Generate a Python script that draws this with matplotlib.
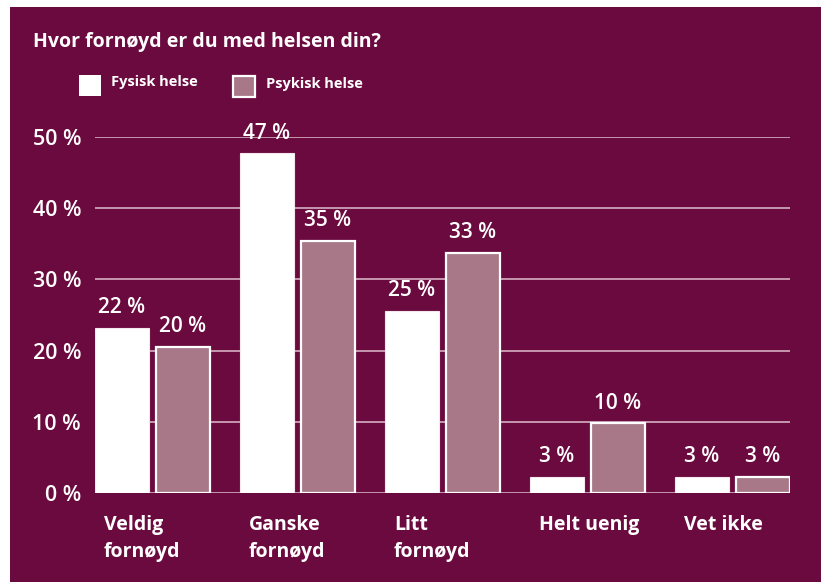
import numpy as np
import matplotlib.pyplot as plt
from matplotlib.patches import Rectangle

## Data
categories = ["Veldig\nfornøyd", "Ganske\nfornøyd", "Litt\nfornøyd", "Helt uenig", "Vet ikke"]
fysisk_labels = [22, 47, 25, 3, 3]
psykisk_labels = [20, 35, 33, 10, 3]
# bar heights as drawn (slightly off the rounded labels)
fysisk_heights = [23.2, 47.7, 25.6, 2.3, 2.3]
psykisk_heights = [20.5, 35.4, 33.7, 9.8, 2.3]
yticks = [0, 10, 20, 30, 40, 50]

bg = '#6B0A3E'
pink = '#A87888'
grid = '#DDBDCB'

W, H = 821, 582
plt.rcParams['font.family'] = ['Open Sans', 'DejaVu Sans']

fig = plt.figure(figsize=(W/100, H/100), dpi=100, facecolor='white')
## purple panel with white margin on top and left
fig.patches.append(Rectangle((10/W, 0), 1-10/W, 1-7/H, transform=fig.transFigure,
                             facecolor=bg, edgecolor='none', zorder=-5))

ax = fig.add_axes([95/W, (H-493)/H, 695/W, 356/H])
ax.set_facecolor('none')

x = np.arange(len(categories))
w = 0.372
off = 0.21
ax.bar(x-off, fysisk_heights, w, color='white', edgecolor='#F4E8EE', linewidth=0.8, zorder=3)
ax.bar(x+off, psykisk_heights, w, color=pink, edgecolor='white', linewidth=1.6, zorder=3)

for i in range(len(categories)):
    ax.annotate(f"{fysisk_labels[i]} %", (x[i]-off, fysisk_heights[i]), xytext=(0, 7),
                textcoords='offset points', ha='center', va='bottom', color='white',
                fontsize=15, fontweight='semibold')
    ax.annotate(f"{psykisk_labels[i]} %", (x[i]+off, psykisk_heights[i]), xytext=(0, 7),
                textcoords='offset points', ha='center', va='bottom', color='white',
                fontsize=15, fontweight='semibold')
    ax.annotate(categories[i], (x[i]-off-w/2+0.06, 0), xytext=(0, -16),
                textcoords='offset points', ha='left', va='top', color='white',
                fontsize=14, fontweight='bold', linespacing=1.45)

ax.set_xlim(-off-w/2, len(categories)-1+off+w/2)
ax.set_ylim(0, 50)
ax.set_yticks(yticks)
ax.set_yticklabels([f"{t} %" for t in yticks], color='white', fontsize=15.5, fontweight='semibold')
ax.tick_params(axis='y', length=0, pad=10)
ax.set_xticks([])
for s in ax.spines.values():
    s.set_visible(False)
ax.yaxis.grid(True, color=grid, linewidth=1.1, zorder=1)
ax.set_axisbelow(True)

## title and hand drawn legend
fig.text(33/W, 1-42/H, "Hvor fornøyd er du med helsen din?", color='white',
         fontsize=14, fontweight='bold', va='center', ha='left')
fig.patches.append(Rectangle((79/W, 1-96/H), 22/W, 21/H, transform=fig.transFigure,
                             facecolor='white', edgecolor='none', zorder=2))
fig.text(111/W, 1-82/H, "Fysisk helse", color='white', fontsize=10.5,
         fontweight='bold', va='center', ha='left')
fig.patches.append(Rectangle((233/W, 1-97/H), 22/W, 21/H, transform=fig.transFigure,
                             facecolor=pink, edgecolor='white', linewidth=1.6, zorder=2))
fig.text(266/W, 1-84/H, "Psykisk helse", color='white', fontsize=10.5,
         fontweight='bold', va='center', ha='left')

plt.savefig('out.png', dpi=100, facecolor='white')
plt.close()
